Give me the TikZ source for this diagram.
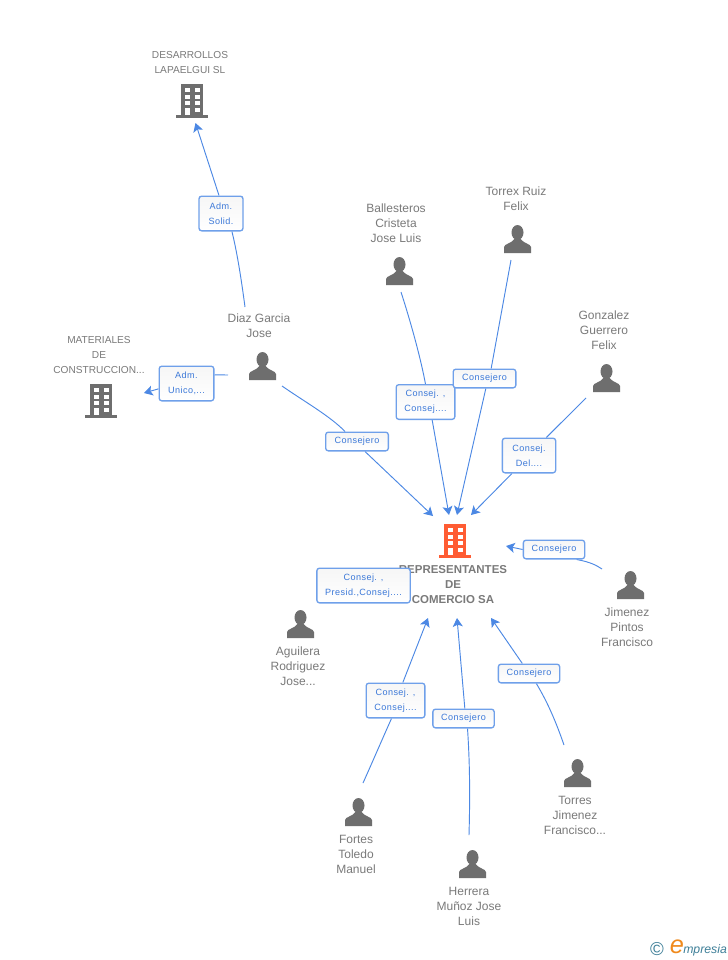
\documentclass[tikz,border=0pt]{standalone}
\usepackage{fontspec}
\setmainfont{Liberation Sans}
\newfontfamily\edgefont[LetterSpace=5]{Liberation Sans}
\usetikzlibrary{arrows.meta}
\pgfdeclarelayer{bg}
\pgfsetlayers{bg,main}
\definecolor{linkblue}{HTML}{4C88E4}
\definecolor{boxblue}{HTML}{6FA0EA}
\definecolor{labelblue}{HTML}{3B78D8}
\definecolor{icongray}{HTML}{6E6E6E}
\definecolor{textgray}{HTML}{7A7A7A}
\definecolor{repcolor}{HTML}{FF5C33}
\definecolor{logoteal}{HTML}{3E7F98}
\definecolor{logoorange}{HTML}{F08A1D}
\newcommand{\oneline}[1]{\raisebox{-1.4pt}{#1}}
\tikzset{
  x=0.75pt,y=-0.75pt,
  nodetext/.style={text=textgray,align=center,inner sep=0pt,font=\fontsize{9}{11.25}\selectfont},
  companytext/.style={text=textgray,align=center,inner sep=0pt,font=\fontsize{7.6}{11.25}\selectfont},
  reptext/.style={text=textgray,align=center,inner sep=0pt,font=\fontsize{8.6}{11.25}\selectfont\bfseries},
  edgebox/.style={draw=boxblue,line width=1pt,rounded corners=2pt,top color=gray!7,bottom color=white,
    text=labelblue,align=center,inner sep=0pt,font=\edgefont\fontsize{6.8}{11.25}\selectfont},
  link/.style={draw=linkblue,line width=0.7pt},
  linkarrow/.style={link,-{Stealth[length=6.5pt,width=7.5pt,inset=1.5pt]}},
  iconspot/.style={inner sep=0pt,minimum width=24pt,minimum height=24pt},
}
\newcommand{\personicon}[2]{%
  \node[iconspot] (#1) at (#2) {};
  \begin{scope}[shift={(#2)}]
    \fill[icongray] (0,-6.5) ellipse[x radius=6,y radius=7.5];
    \fill[icongray] (-13.5,14) -- (-13.5,8) .. controls (-13,4.5) and (-6.5,5) .. (-3.2,0)
      -- (3.2,0) .. controls (6.5,5) and (13,4.5) .. (13.5,8) -- (13.5,14) -- cycle;
  \end{scope}}
\newcommand{\buildingicon}[3]{%
  \node[iconspot] (#1) at (#2) {};
  \begin{scope}[shift={(#2)}]
    \fill[#3] (-11,-17) rectangle (11,15);
    \fill[#3] (-16,13.5) rectangle (16,16.5);
    \foreach \wy in {-13,-6,0}{
      \fill[white] (-7,\wy) rectangle (-2.4,\wy+4);
      \fill[white] (3,\wy) rectangle (7.6,\wy+4);}
    \fill[white] (3,7) rectangle (7.6,11);
    \fill[white] (-7,7) rectangle (-2.4,14);
  \end{scope}}
\begin{document}
\begin{tikzpicture}
\useasboundingbox (0,0) rectangle (728,960);
\begin{pgfonlayer}{bg}
\fill[white] (0,0) rectangle (728,960);
\end{pgfonlayer}

% icons
\buildingicon{desarrollos}{192,101}{icongray}
\buildingicon{materiales}{101,401}{icongray}
\buildingicon{representantes}{455,541}{repcolor}
\personicon{diaz}{262.5,366}
\personicon{ballesteros}{399.5,271}
\personicon{torrex}{517.5,239}
\personicon{gonzalez}{606.5,378}
\personicon{jimenez}{630.5,585}
\personicon{aguilera}{300.5,624}
\personicon{torres}{577.5,773}
\personicon{fortes}{358.5,812}
\personicon{herrera}{472.5,864}

% texts
\node[companytext] (tdesarrollos) at (190,62.5) {DESARROLLOS\\LAPAELGUI SL};
\node[companytext] (tmateriales) at (99,355) {MATERIALES\\DE\\CONSTRUCCION...};
\node[reptext] (trep) at (453,585) {REPRESENTANTES\\DE\\COMERCIO SA};
\node[nodetext] (tdiaz) at (259,325.5) {Diaz Garcia\\Jose};
\node[nodetext] (tball) at (396,223) {Ballesteros\\Cristeta\\Jose Luis};
\node[nodetext] (ttorrex) at (516,198.5) {Torrex Ruiz\\Felix};
\node[nodetext] (tgonz) at (604,330) {Gonzalez\\Guerrero\\Felix};
\node[nodetext] (tjim) at (627,627) {Jimenez\\Pintos\\Francisco};
\node[nodetext] (tagu) at (298,666) {Aguilera\\Rodriguez\\Jose...};
\node[nodetext] (ttor) at (575,815) {Torres\\Jimenez\\Francisco...};
\node[nodetext] (tfor) at (356,854) {Fortes\\Toledo\\Manuel};
\node[nodetext] (ther) at (469,906) {Herrera\\Muñoz Jose\\Luis};

% edge labels
\node[edgebox,minimum width=33pt,minimum height=26pt] (l1) at (221,213.5) {Adm.\\Solid.};
\node[edgebox,minimum width=41pt,minimum height=26pt] (l2) at (186.5,383.5) {Adm.\\Unico,...};
\node[edgebox,minimum width=47pt,minimum height=14pt] (l3) at (357,441.5) {\oneline{Consejero}};
\node[edgebox,minimum width=44pt,minimum height=26pt] (l4) at (425.5,402) {Consej. ,\\Consej....};
\node[edgebox,minimum width=47pt,minimum height=14pt] (l5) at (484.5,378.5) {\oneline{Consejero}};
\node[edgebox,minimum width=40pt,minimum height=26pt] (l6) at (529,455.5) {Consej.\\Del....};
\node[edgebox,minimum width=46pt,minimum height=14pt] (l7) at (554,549.5) {\oneline{Consejero}};
\node[edgebox,minimum width=70pt,minimum height=26pt] (l8) at (363.5,585.5) {Consej. ,\\Presid.,Consej....};
\node[edgebox,minimum width=44pt,minimum height=26pt] (l9) at (395.5,700.5) {Consej. ,\\Consej....};
\node[edgebox,minimum width=46pt,minimum height=14pt] (l10) at (463.5,718.5) {\oneline{Consejero}};
\node[edgebox,minimum width=46pt,minimum height=14pt] (l11) at (529,673.5) {\oneline{Consejero}};

% connector ends
\coordinate (s1) at (245,307); \coordinate (t1) at (195.5,123);
\coordinate (s2) at (228,375); \coordinate (t2) at (144,393);
\coordinate (s3) at (282,386); \coordinate (t3) at (433,516);
\coordinate (s4) at (401,292); \coordinate (t4) at (449,515);
\coordinate (s5) at (511,260); \coordinate (t5) at (457,515);
\coordinate (s6) at (586,398); \coordinate (t6) at (471,515);
\coordinate (s7) at (602,569); \coordinate (t7) at (506,546);
\coordinate (s9) at (363,783); \coordinate (t9) at (428,618);
\coordinate (s10) at (469,835); \coordinate (t10) at (457,618);
\coordinate (s11) at (564,745); \coordinate (t11) at (491,618);

\begin{pgfonlayer}{bg}
\draw[link] (s1) .. controls (241,277) and (237,252) .. ([xshift=8.2pt]l1.south);
\draw[linkarrow] ([xshift=-1.5pt]l1.north) -- (t1);
\draw[link] (s2) -- ([yshift=6.5pt]l2.east);
\draw[linkarrow] ([yshift=-4pt]l2.west) -- (t2);
\draw[link] (s3) .. controls (305,402) and (330,416) .. ([xshift=-9pt]l3.north);
\draw[linkarrow] ([xshift=6pt]l3.south) -- (t3);
\draw[link] (s4) .. controls (410,320) and (420,355) .. ([xshift=0pt]l4.north);
\draw[linkarrow] ([xshift=5pt]l4.south) -- (t4);
\draw[link] (s5) -- ([xshift=5pt]l5.north);
\draw[linkarrow] ([xshift=1pt]l5.south) -- (t5);
\draw[link] (s6) -- ([xshift=13pt]l6.north);
\draw[linkarrow] ([xshift=-12.8pt]l6.south) -- (t6);
\draw[link] (s7) .. controls (596,565) and (590,562) .. ([xshift=17pt]l7.south);
\draw[linkarrow] (l7.west) -- (t7);
\draw[link] (s9) .. controls (372,763) and (381,742) .. ([xshift=-3pt]l9.south);
\draw[linkarrow] ([xshift=5.5pt]l9.north) -- (t9);
\draw[link] (s10) .. controls (470,800) and (470,765) .. ([xshift=3pt]l10.south);
\draw[linkarrow] ([xshift=1pt]l10.north) -- (t10);
\draw[link] (s11) .. controls (556,722) and (548,703) .. ([xshift=5.5pt]l11.south);
\draw[linkarrow] ([xshift=-5pt]l11.north) -- (t11);
\end{pgfonlayer}

% logo
\node[inner sep=0pt,text=logoteal,font=\fontsize{14}{14}\selectfont] (logoc) at (657,949) {©};
\node[inner sep=0pt,text=logoorange,font=\fontsize{19}{19}\selectfont\itshape] (logoe) at (677,947) {e};
\node[inner sep=0pt,anchor=west,text=logoteal,font=\fontsize{9.2}{10}\selectfont\itshape] (logot) at (683,950.5) {mpresia};
\end{tikzpicture}
\end{document}
